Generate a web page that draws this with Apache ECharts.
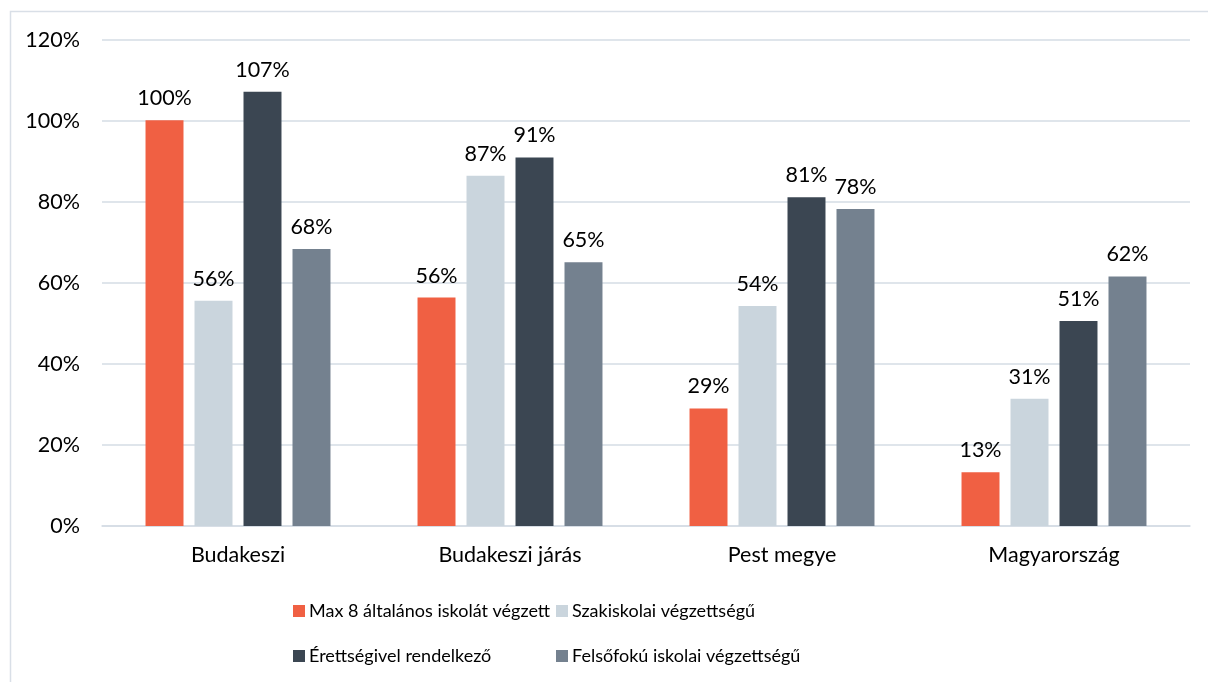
<!DOCTYPE html>
<html><head><meta charset="utf-8">
<script src="https://cdn.jsdelivr.net/npm/echarts@6/dist/echarts.min.js"></script>
<style>html,body{margin:0;padding:0;background:#fff}#c{width:1208px;height:682px}</style>
</head><body><div id="c"></div>
<script>
const categories = ['Budakeszi', 'Budakeszi járás', 'Pest megye', 'Magyarország'];
const seriesNames = ['Max 8 általános iskolát végzett', 'Szakiskolai végzettségű', 'Érettségivel rendelkező', 'Felsőfokú iskolai végzettségű'];
const maxEight = [100.2, 56.4, 29.0, 13.3];
const szakiskolai = [55.6, 86.5, 54.3, 31.4];
const erettsegi = [107.2, 91.0, 81.2, 50.6];
const felsofoku = [68.4, 65.1, 78.3, 61.6];
const colors = ['#F06043', '#CAD5DD', '#3B4652', '#74818F'];
const FONT = 'Lato';
const FS = 21.5;
const LFS = 18;

const chart = echarts.init(document.getElementById('c'));
const values = [maxEight, szakiskolai, erettsegi, felsofoku];
const legendPos = [[288, 597], [551, 597], [288, 642], [551, 642]];
chart.setOption({
  animation: false,
  textStyle: { fontFamily: FONT },
  graphic: [{ type: 'rect', left: 8, top: 9, shape: { width: 1400, height: 900 }, style: { fill: 'none', stroke: '#D9DFE7', lineWidth: 1.5 }, silent: true }],
  grid: { left: 102, right: 18, top: 40, bottom: 156, containLabel: false },
  legend: seriesNames.map((n, i) => ({
    data: [n], left: legendPos[i][0], top: legendPos[i][1], itemWidth: 12, itemHeight: 12, icon: 'rect',
    textStyle: { fontFamily: FONT, fontSize: LFS, color: '#000', padding: [0, 0, 0, -1] }
  })),
  xAxis: { type: 'category', data: categories,
    axisLine: { lineStyle: { color: '#D5DCE5', width: 1.5 } }, axisTick: { show: false },
    axisLabel: { fontFamily: FONT, fontSize: FS, color: '#000', margin: 18 } },
  yAxis: { type: 'value', min: 0, max: 120, interval: 20,
    axisLabel: { formatter: '{value}%', fontFamily: FONT, fontSize: FS, color: '#000', margin: 22 },
    splitLine: { lineStyle: { color: '#D5DCE5', width: 1.5 } }, axisLine: { show: false }, axisTick: { show: false } },
  series: values.map((v, i) => ({
    name: seriesNames[i], type: 'bar', data: v, barGap: '29%', barCategoryGap: '32%',
    itemStyle: { color: colors[i] },
    label: { show: true, position: 'top', distance: 11, fontFamily: FONT, fontSize: FS, color: '#000',
      formatter: p => Math.round(p.value) + '%' }
  }))
});
</script></body></html>
